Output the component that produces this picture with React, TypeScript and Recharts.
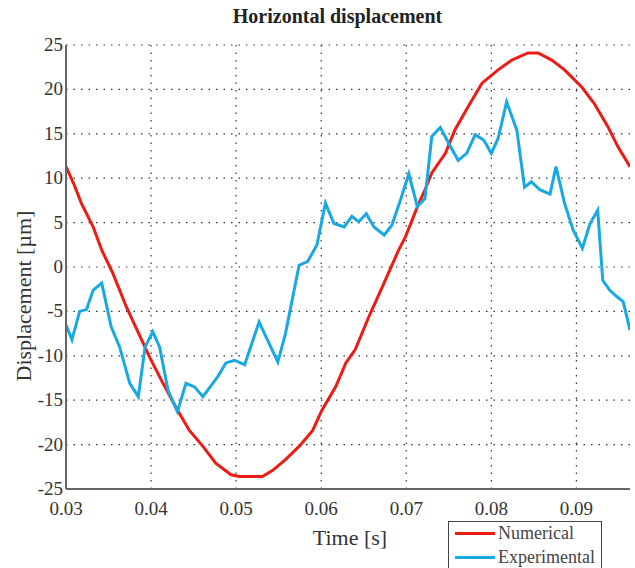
import React from 'react';
import { LineChart, Line, XAxis, YAxis, CartesianGrid } from 'recharts';

const numTime = [
    0.03, 0.0309, 0.0318, 0.0332, 0.0342, 0.0355, 0.0371, 0.0387, 0.0398, 0.0414,
    0.0431, 0.0445, 0.0461, 0.0476, 0.0494, 0.0504, 0.0531, 0.0543, 0.0558, 0.0574,
    0.059, 0.0601, 0.0617, 0.0629, 0.064, 0.0656, 0.0672, 0.0691, 0.0699, 0.0714,
    0.0722, 0.073, 0.0746, 0.0757, 0.0773, 0.0789, 0.0808, 0.0824, 0.0843, 0.0855,
    0.0871, 0.0886, 0.0906, 0.0921, 0.0937, 0.0949, 0.0963,
];
const numValue = [
    11.3, 9.4, 7.2, 4.5, 1.9, -0.7, -4.5, -7.8, -10.1, -13.1,
    -16.1, -18.4, -20.2, -22.1, -23.4, -23.6, -23.6, -22.9, -21.7, -20.2,
    -18.4, -16.1, -13.5, -10.8, -9.3, -5.6, -2.2, 1.9, 3.4, 7.0,
    8.7, 10.6, 12.8, 15.4, 18.1, 20.7, 22.2, 23.3, 24.1, 24.1,
    23.3, 22.2, 20.3, 18.4, 15.8, 13.5, 11.3,
];

const expTime = [
    0.03, 0.0307, 0.0316, 0.0324, 0.0332, 0.0342, 0.0353, 0.0363, 0.0375, 0.0385,
    0.0393, 0.0402, 0.041, 0.042, 0.0431, 0.0441, 0.0451, 0.0461, 0.0471, 0.0478,
    0.0488, 0.0498, 0.051, 0.0527, 0.0549, 0.0558, 0.0574, 0.0584, 0.0595, 0.0605,
    0.0615, 0.0627, 0.0636, 0.0644, 0.0653, 0.0662, 0.0674, 0.0683, 0.0693, 0.0703,
    0.0713, 0.0722, 0.073, 0.074, 0.075, 0.0761, 0.0771, 0.0781, 0.0791, 0.08,
    0.0808, 0.0818, 0.083, 0.0839, 0.0847, 0.0857, 0.0869, 0.0876, 0.0886, 0.0896,
    0.0907, 0.0916, 0.0925, 0.0931, 0.0939, 0.0947, 0.0955, 0.0963,
];
const expValue = [
    -6.5, -8.2, -5.0, -4.8, -2.6, -1.8, -6.7, -9.0, -13.1, -14.6,
    -9.0, -7.3, -9.0, -13.9, -16.3, -13.1, -13.5, -14.6, -13.3, -12.4,
    -10.8, -10.5, -11.0, -6.2, -10.7, -7.5, 0.2, 0.6, 2.5, 7.2,
    4.9, 4.5, 5.7, 5.1, 6.0, 4.5, 3.6, 4.7, 7.5, 10.5,
    6.8, 7.7, 14.7, 15.7, 13.9, 12.0, 12.8, 14.9, 14.3, 12.8,
    14.5, 18.6, 15.4, 9.0, 9.6, 8.7, 8.2, 11.3, 7.2, 4.2,
    2.1, 4.9, 6.4, -1.5, -2.6, -3.3, -3.9, -7.1,
];

const xTicks = [0.03, 0.04, 0.05, 0.06, 0.07, 0.08, 0.09];
const yTicks = [-25, -20, -15, -10, -5, 0, 5, 10, 15, 20, 25];

const numerical = numTime.map((t, i) => ({ t, v: numValue[i] }));
const experimental = expTime.map((t, i) => ({ t, v: expValue[i] }));

const FONT = "'Liberation Serif', 'Times New Roman', serif";
const RED = '#ec1c12';
const BLUE = '#18a8e2';
const FRAME = '#666';

// serif tick labels, placed by hand relative to the tick coordinate
const XTick = (props: any) => {
    const { x, y, payload } = props;
    return (
        <text x={x} y={y + 26} textAnchor="middle" fill="#333" fontFamily={FONT} fontSize={19}>
            {Number(payload.value).toFixed(2)}
        </text>
    );
};

const YTick = (props: any) => {
    const { x, y, payload } = props;
    return (
        <text x={x - 3} y={y + 6} textAnchor="end" fill="#333" fontFamily={FONT} fontSize={19}>
            {payload.value}
        </text>
    );
};

export default function App() {
    return (
        <div
            style={{
                position: 'absolute',
                left: 0,
                top: 0,
                width: 635,
                height: 568,
                background: '#fff',
                fontFamily: FONT,
                overflow: 'hidden',
            }}
        >
            <div
                style={{
                    position: 'absolute',
                    left: 0,
                    width: 675,
                    top: 5,
                    textAlign: 'center',
                    fontSize: 20,
                    fontWeight: 'bold',
                    color: '#222',
                }}
            >
                Horizontal displacement
            </div>
            <LineChart
                width={635}
                height={568}
                margin={{ top: 45, right: 5, left: 0, bottom: 49 }}
                style={{ fontFamily: FONT }}
            >
                <CartesianGrid
                    stroke="#333"
                    strokeDasharray="1.5 6"
                    strokeWidth={1.2}
                    horizontalValues={yTicks}
                    verticalValues={xTicks}
                />
                <XAxis
                    dataKey="t"
                    type="number"
                    domain={[0.03, 0.0963]}
                    ticks={xTicks}
                    allowDataOverflow
                    tick={<XTick />}
                    tickLine={false}
                    tickSize={0}
                    tickMargin={0}
                    height={30}
                    axisLine={{ stroke: FRAME, strokeWidth: 2 }}
                />
                <XAxis
                    xAxisId="top"
                    orientation="top"
                    dataKey="t"
                    type="number"
                    domain={[0.03, 0.0963]}
                    ticks={xTicks}
                    allowDataOverflow
                    mirror
                    tickFormatter={() => ''}
                    tickSize={4}
                    tickLine={{ stroke: '#333' }}
                    height={0}
                    axisLine={{ stroke: FRAME, strokeWidth: 2 }}
                />
                <YAxis
                    type="number"
                    domain={[-25, 25]}
                    ticks={yTicks}
                    allowDataOverflow
                    tick={<YTick />}
                    tickLine={false}
                    tickSize={0}
                    tickMargin={0}
                    width={66}
                    axisLine={{ stroke: FRAME, strokeWidth: 2 }}
                />
                <YAxis
                    yAxisId="right"
                    orientation="right"
                    type="number"
                    domain={[-25, 25]}
                    ticks={yTicks}
                    mirror
                    tickFormatter={() => ''}
                    tickSize={4}
                    tickLine={{ stroke: '#333' }}
                    width={0}
                    axisLine={{ stroke: FRAME, strokeWidth: 2 }}
                />
                <Line
                    data={numerical}
                    dataKey="v"
                    type="linear"
                    stroke={RED}
                    strokeWidth={3}
                    dot={false}
                    isAnimationActive={false}
                />
                <Line
                    data={experimental}
                    dataKey="v"
                    type="linear"
                    stroke={BLUE}
                    strokeWidth={3}
                    dot={false}
                    isAnimationActive={false}
                />
            </LineChart>
            <div
                style={{
                    position: 'absolute',
                    left: 24,
                    top: 296,
                    transform: 'translate(-50%, -50%) rotate(-90deg)',
                    whiteSpace: 'nowrap',
                    fontSize: 22,
                    color: '#333',
                }}
            >
                Displacement [µm]
            </div>
            <div
                style={{
                    position: 'absolute',
                    left: 350,
                    top: 538,
                    transform: 'translate(-50%, -50%)',
                    whiteSpace: 'nowrap',
                    fontSize: 22,
                    color: '#333',
                }}
            >
                Time [s]
            </div>
            <div
                style={{
                    position: 'absolute',
                    left: 448,
                    top: 521,
                    width: 152,
                    height: 60,
                    border: '1.5px solid #444',
                    background: '#fff',
                    fontSize: 18,
                    color: '#444',
                }}
            >
                <div style={{ position: 'absolute', left: 6, top: 10, width: 40, height: 3, background: RED }} />
                <div style={{ position: 'absolute', left: 49, top: 0, lineHeight: '22px' }}>Numerical</div>
                <div style={{ position: 'absolute', left: 6, top: 34, width: 40, height: 3, background: BLUE }} />
                <div style={{ position: 'absolute', left: 49, top: 24, lineHeight: '22px' }}>Experimental</div>
            </div>
        </div>
    );
}
